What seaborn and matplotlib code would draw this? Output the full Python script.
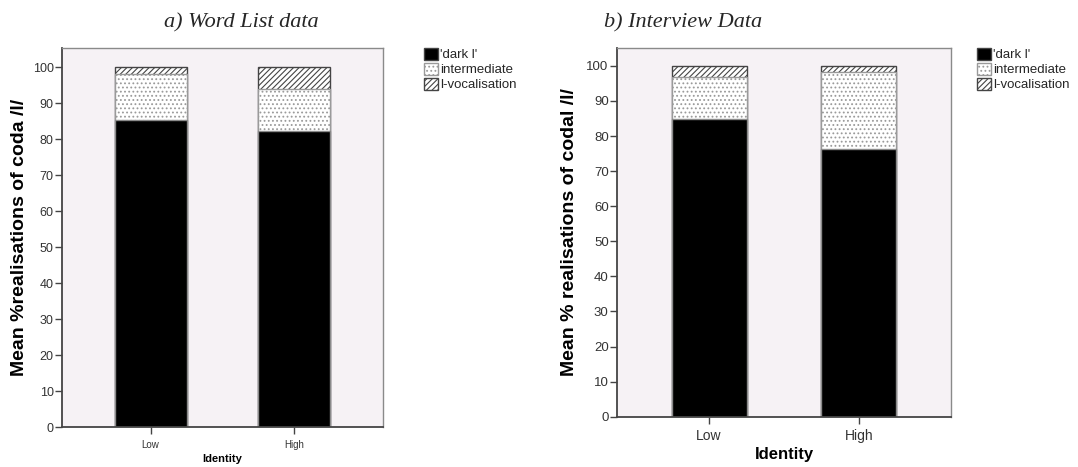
import matplotlib
matplotlib.use("Agg")
import matplotlib.pyplot as plt
import seaborn as sns
import pandas as pd
import numpy as np
from matplotlib.patches import Patch

sns.set_theme(style="white")
plt.rcParams['font.family'] = ['Liberation Sans', 'DejaVu Sans']
plt.rcParams['hatch.linewidth'] = 0.8

categories = ["Low", "High"]
series_names = ["'dark l'", "intermediate", "l-vocalisation"]
wl_dark = [85.3, 82.2]
wl_inter = [12.8, 11.6]
wl_voc = [1.9, 6.2]
iv_dark = [84.8, 76.3]
iv_inter = [12.1, 21.9]
iv_voc = [3.1, 1.8]

BG = "#F6F2F5"
EDGE = "#8a8a8a"
DOT = "...."
DIAG = "//////"

fig = plt.figure(figsize=(10.78, 4.67), dpi=100)
ax1 = fig.add_axes([62/1078, (467-427)/467, 321/1078, 379/467])
ax2 = fig.add_axes([617/1078, (467-416.7)/467, 334/1078, 368.4/467])


def draw(ax, dark, inter, voc, ylabel, xt_size, yt_size, xl_size, yl_size, ylim_top, ylx):
    df = pd.DataFrame({"Identity": categories, "dark": dark, "inter": inter, "voc": voc})
    df["t1"] = df["dark"]
    df["t2"] = df["dark"] + df["inter"]
    df["t3"] = df["t2"] + df["voc"]
    sns.barplot(data=df, x="Identity", y="t3", ax=ax, color="white", width=0.5,
                edgecolor="#444444", linewidth=1.0, hatch=DIAG, errorbar=None, saturation=1)
    sns.barplot(data=df, x="Identity", y="t2", ax=ax, color="white", width=0.5,
                edgecolor="#9a9a9a", linewidth=1.0, hatch=DOT, errorbar=None, saturation=1)
    sns.barplot(data=df, x="Identity", y="t1", ax=ax, color="black", width=0.5,
                edgecolor=EDGE, linewidth=1.0, errorbar=None, saturation=1)
    ax.set_facecolor(BG)
    ax.set_ylim(0, ylim_top)
    ax.set_xlim(-0.615, 1.615)
    ax.set_yticks(np.arange(0, 101, 10))
    ax.tick_params(axis="both", which="both", direction="out", length=5, width=1,
                   color="#444444", bottom=True, left=True)
    ax.tick_params(axis="y", labelsize=yt_size, labelcolor="#333333", pad=1)
    ax.tick_params(axis="x", labelsize=xt_size, labelcolor="#333333", pad=4)
    ax.set_xlabel("Identity", fontsize=xl_size, fontweight="bold", color="black", labelpad=3)
    ax.set_ylabel(ylabel, fontsize=yl_size, fontweight="bold", color="black")
    ax.yaxis.set_label_coords(ylx, 0.5)
    for s in ["left", "bottom"]:
        ax.spines[s].set_color("#444444")
        ax.spines[s].set_linewidth(1.3)
    for s in ["top", "right"]:
        ax.spines[s].set_color("#8a8a8a")
        ax.spines[s].set_linewidth(1.0)
    ax.grid(False)


draw(ax1, wl_dark, wl_inter, wl_voc, "Mean %realisations of coda /l/", 7, 9, 8, 14, 105.3, -0.106)
draw(ax2, iv_dark, iv_inter, iv_voc, "Mean % realisations of codal /l/", 10, 9.5, 12, 14, 105.0, -0.117)

handles = [Patch(facecolor="black", edgecolor="#444444"),
           Patch(facecolor="white", edgecolor="#9a9a9a", hatch=DOT),
           Patch(facecolor="white", edgecolor="#444444", hatch=DIAG)]
for x0 in (424, 977):
    fig.legend(handles, series_names, loc="upper left",
               bbox_to_anchor=(x0/1078, 1 - 48/467), frameon=False, fontsize=9.5,
               handlelength=1.05, handleheight=1.0, handletextpad=0.15,
               labelspacing=0.12, borderpad=0, borderaxespad=0)

fig.text(241/1078, 1 - 27/467, "a) Word List data", ha="center", va="baseline",
         family="Liberation Serif", style="italic", fontsize=16)
fig.text(683/1078, 1 - 27/467, "b) Interview Data", ha="center", va="baseline",
         family="Liberation Serif", style="italic", fontsize=16)

fig.savefig("out.png", dpi=100, facecolor="white")
